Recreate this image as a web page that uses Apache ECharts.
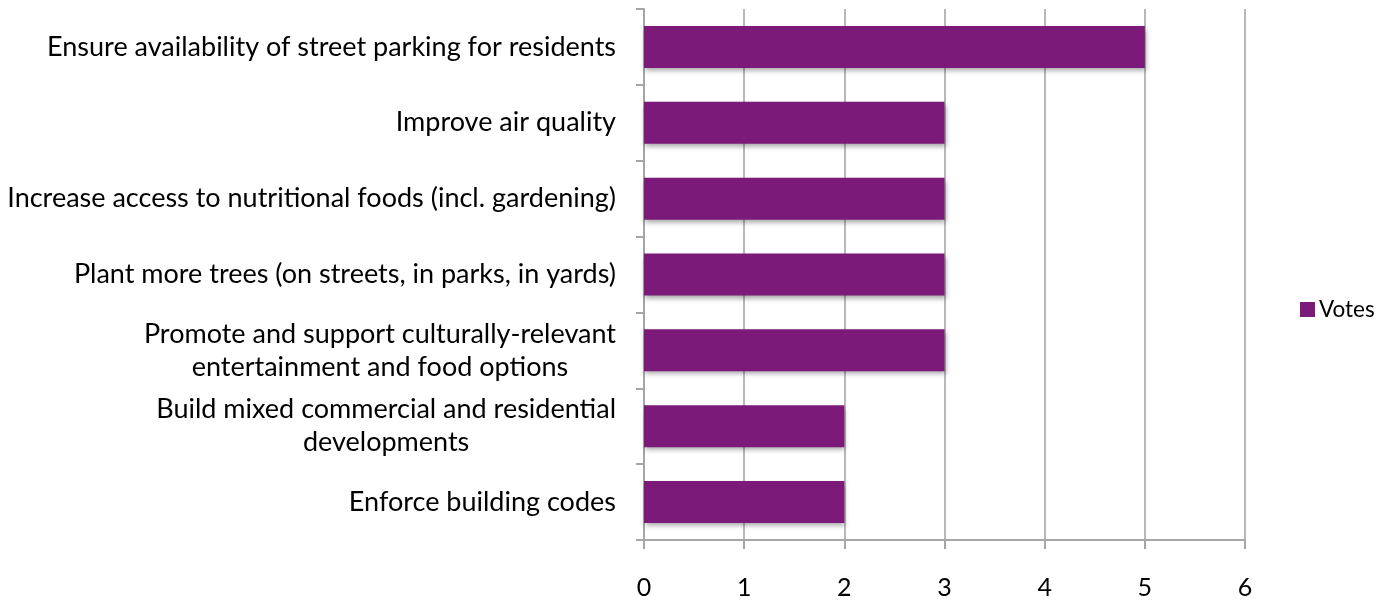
<!DOCTYPE html>
<html>
<head>
<meta charset="utf-8">
<script src="https://cdn.jsdelivr.net/npm/echarts@6/dist/echarts.min.js"></script>
<style>
    html, body { margin: 0; padding: 0; background: #fff; }
    #chart { width: 1393px; height: 601px; }
</style>
</head>
<body>
<div id="chart"></div>
<script>
// data
var categories = [
    'Ensure availability of street parking for residents',
    'Improve air quality',
    'Increase access to nutritional foods (incl. gardening)',
    'Plant more trees (on streets, in parks, in yards)',
    'Promote and support culturally-relevant\nentertainment and food options',
    'Build mixed commercial and residential\ndevelopments',
    'Enforce building codes'
];
var votes = [5, 3, 3, 3, 3, 2, 2];
var xTicks = [0, 1, 2, 3, 4, 5, 6];
var seriesName = 'Votes';

var FONT = 'Lato';
var labelSize = 27;

// multi-line labels: lines centred, block right aligned
var ctx = document.createElement('canvas').getContext('2d');
ctx.font = labelSize + 'px ' + FONT;
var yData = categories.map(function (c) {
    if (c.indexOf('\n') < 0) return c;
    var w = 0;
    c.split('\n').forEach(function (l) {
        w = Math.max(w, ctx.measureText(l).width);
    });
    return {value: c, textStyle: {align: 'center', padding: [0, w, 0, 0]}};
});

var chart = echarts.init(document.getElementById('chart'));
var option = {
    animation: false,
    textStyle: {fontFamily: FONT},
    legend: {
        data: [seriesName],
        left: 1295,
        top: 293,
        itemWidth: 15,
        itemHeight: 15,
        itemGap: 5,
        icon: 'rect',
        textStyle: {fontFamily: FONT, fontSize: 22.5, color: '#000', padding: [0, 0, 0, -1]}
    },
    grid: {left: 644, right: 148, top: 9, bottom: 61},
    xAxis: {
        type: 'value',
        min: xTicks[0],
        max: xTicks[xTicks.length - 1],
        interval: 1,
        axisLine: {show: true, lineStyle: {color: '#a6a6a6', width: 2}},
        axisTick: {show: true, length: 9, lineStyle: {color: '#a6a6a6', width: 2}},
        splitLine: {show: true, lineStyle: {color: '#a0a0a0', width: 1.5}},
        axisLabel: {fontFamily: FONT, fontSize: 25, color: '#000', margin: 35}
    },
    yAxis: {
        type: 'category',
        inverse: true,
        data: yData,
        axisLine: {show: true, lineStyle: {color: '#a6a6a6', width: 2}},
        axisTick: {show: true, length: 8, lineStyle: {color: '#a6a6a6', width: 2}},
        splitLine: {show: false},
        axisLabel: {fontFamily: FONT, fontSize: labelSize, color: '#000', margin: 28, lineHeight: 33}
    },
    series: [{
        name: seriesName,
        type: 'bar',
        data: votes,
        barWidth: 42,
        itemStyle: {
            color: '#7B1A78',
            shadowColor: 'rgba(0,0,0,0.35)',
            shadowBlur: 5,
            shadowOffsetX: 1,
            shadowOffsetY: 3
        }
    }]
};
chart.setOption(option);
</script>
</body>
</html>
